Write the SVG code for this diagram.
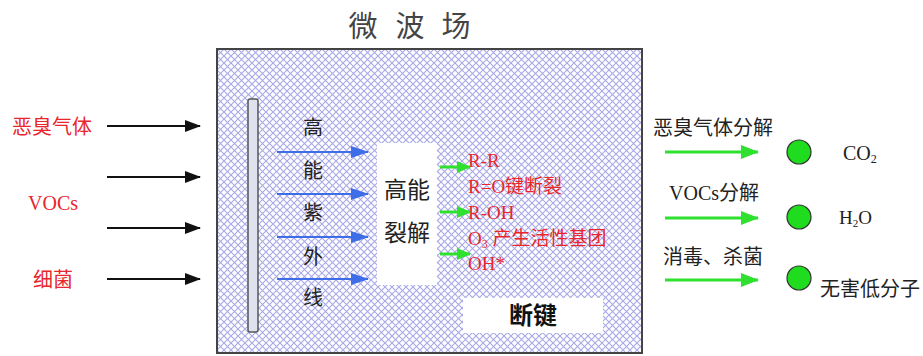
<svg xmlns="http://www.w3.org/2000/svg" width="923" height="356" viewBox="0 0 923 356">
<style>
.cjk{font-family:"Noto Sans CJK SC","Liberation Sans",sans-serif}
.ser{font-family:"Liberation Serif","Noto Sans CJK SC",serif}
.red{fill:#e8262b}
.dark{fill:#222}
.blk{stroke:#111;stroke-width:2.2;fill:none}
.blu{stroke:#3d6ee8;stroke-width:2;fill:none}
.grn{stroke:#2fe02f;stroke-width:3;fill:none}
.dot{fill:#1fdc1f;stroke:#333;stroke-width:1.2}
</style>
<defs>
<pattern id="hatch" width="7" height="7" patternUnits="userSpaceOnUse">
<rect width="7" height="7" fill="#ffffff"/>
<path d="M0,0 L7,7 M0,7 L7,0" stroke="#a8a8e8" stroke-width="1.1"/>
</pattern>
<marker id="mb" markerUnits="userSpaceOnUse" markerWidth="16" markerHeight="12" refX="15" refY="6" orient="auto"><path d="M0,0 L16,6 L0,12 Z" fill="#111"/></marker>
<marker id="mu" markerUnits="userSpaceOnUse" markerWidth="18" markerHeight="12" refX="17" refY="6" orient="auto"><path d="M0,0 L18,6 L0,12 Z" fill="#3d6ee8"/></marker>
<marker id="mg" markerUnits="userSpaceOnUse" markerWidth="18" markerHeight="14" refX="17" refY="7" orient="auto"><path d="M0,0 L18,7 L0,14 Z" fill="#2fe02f"/></marker>
<marker id="ms" markerUnits="userSpaceOnUse" markerWidth="14" markerHeight="12" refX="13" refY="6" orient="auto"><path d="M0,0 L14,6 L0,12 Z" fill="#2fe02f"/></marker>
</defs>
<rect width="923" height="356" fill="#ffffff"/>

<g id="title">
<text class="cjk" x="363" y="37" font-size="29" fill="#444" text-anchor="middle">微</text>
<text class="cjk" x="410" y="37" font-size="29" fill="#444" text-anchor="middle">波</text>
<text class="cjk" x="456" y="37" font-size="29" fill="#444" text-anchor="middle">场</text>
</g>

<g id="field">
<rect x="217" y="49" width="425" height="304" fill="url(#hatch)" stroke="#444" stroke-width="2"/>
</g>

<g id="lamp">
<rect x="248" y="99" width="10" height="233" rx="2" fill="#dfe1ef" stroke="#555" stroke-width="1.5"/>
</g>

<g id="inputs">
<text class="cjk red" x="12" y="134" font-size="20">恶臭气体</text>
<text class="ser red" x="28" y="210" font-size="20">VOCs</text>
<text class="cjk red" x="33" y="287" font-size="20">细菌</text>
</g>

<g id="uv-label">
<text class="cjk dark" x="313" y="135" font-size="20" text-anchor="middle">高</text>
<text class="cjk dark" x="313" y="178" font-size="20" text-anchor="middle">能</text>
<text class="cjk dark" x="313" y="220" font-size="20" text-anchor="middle">紫</text>
<text class="cjk dark" x="313" y="264" font-size="20" text-anchor="middle">外</text>
<text class="cjk dark" x="313" y="305" font-size="20" text-anchor="middle">线</text>
</g>

<g id="cracking">
<rect x="377" y="143" width="60" height="142" fill="#ffffff"/>
<text class="cjk dark" x="407" y="198" font-size="23" text-anchor="middle">高能</text>
<text class="cjk dark" x="407" y="241" font-size="23" text-anchor="middle">裂解</text>
</g>

<g id="bonds">
<text class="ser red" x="468" y="167" font-size="19">R-R</text>
<text class="ser red" x="468" y="193" font-size="19">R=O键断裂</text>
<text class="ser red" x="468" y="219" font-size="19">R-OH</text>
<text class="ser red" x="468" y="245" font-size="19">O<tspan font-size="12" dy="3">3</tspan><tspan dy="-3"> 产生活性基团</tspan></text>
<text class="ser red" x="468" y="270" font-size="19">OH*</text>
</g>

<g id="break">
<rect x="463" y="298" width="140" height="35" fill="#ffffff"/>
<text class="cjk" x="533" y="324" font-size="24" font-weight="bold" fill="#111" text-anchor="middle">断键</text>
</g>

<g id="outputs">
<text class="cjk dark" x="653" y="135" font-size="20">恶臭气体分解</text>
<text class="ser dark" x="669" y="200" font-size="20">VOCs<tspan class="cjk">分解</tspan></text>
<text class="cjk dark" x="663" y="264" font-size="20">消毒、杀菌</text>
</g>

<g id="products">
<circle class="dot" cx="799" cy="152" r="12"/>
<circle class="dot" cx="799" cy="217" r="12"/>
<circle class="dot" cx="799" cy="278" r="12"/>
<text class="ser dark" x="843" y="160" font-size="20">CO<tspan font-size="12" dy="3">2</tspan></text>
<text class="ser dark" x="839" y="224" font-size="19">H<tspan font-size="11" dy="3">2</tspan><tspan dy="-3">O</tspan></text>
<text class="cjk dark" x="820" y="296" font-size="20">无害低分子</text>
</g>

<g id="connectors">
<line class="blk" x1="107" y1="126" x2="200" y2="126" marker-end="url(#mb)"/>
<line class="blk" x1="107" y1="177" x2="200" y2="177" marker-end="url(#mb)"/>
<line class="blk" x1="107" y1="228" x2="200" y2="228" marker-end="url(#mb)"/>
<line class="blk" x1="107" y1="279" x2="200" y2="279" marker-end="url(#mb)"/>
<line class="blu" x1="277" y1="152" x2="368" y2="152" marker-end="url(#mu)"/>
<line class="blu" x1="277" y1="194" x2="368" y2="194" marker-end="url(#mu)"/>
<line class="blu" x1="277" y1="237" x2="368" y2="237" marker-end="url(#mu)"/>
<line class="blu" x1="277" y1="279" x2="368" y2="279" marker-end="url(#mu)"/>
<line class="grn" x1="440" y1="167" x2="470" y2="167" marker-end="url(#ms)"/>
<line class="grn" x1="440" y1="212" x2="470" y2="212" marker-end="url(#ms)"/>
<line class="grn" x1="440" y1="254" x2="470" y2="254" marker-end="url(#ms)"/>
<line class="grn" x1="665" y1="152" x2="758" y2="152" marker-end="url(#mg)"/>
<line class="grn" x1="665" y1="218" x2="758" y2="218" marker-end="url(#mg)"/>
<line class="grn" x1="665" y1="280" x2="758" y2="280" marker-end="url(#mg)"/>
</g>
</svg>
